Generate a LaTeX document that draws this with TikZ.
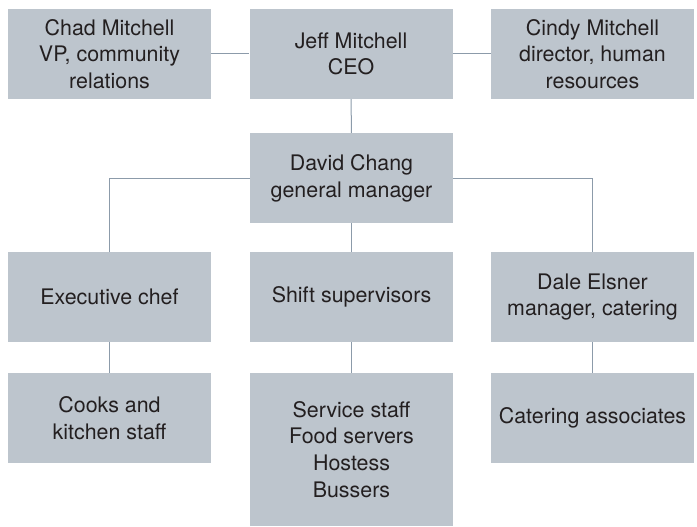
\documentclass[tikz,border=0pt]{standalone}
\usepackage{fontspec}
\setmainfont{TeX Gyre Heros}
\definecolor{boxgray}{RGB}{189,197,205}
\definecolor{linegray}{RGB}{140,155,170}
\definecolor{inkgray}{RGB}{35,31,32}
\begin{document}
\begin{tikzpicture}[x=1pt,y=-1pt,
    n/.style={rectangle,fill=boxgray,text=inkgray,align=center,inner sep=0pt,
      minimum width=203pt,minimum height=90pt,
      font=\fontsize{21.4}{26.7}\selectfont},
    c/.style={draw=linegray,line width=1pt}]
                \useasboundingbox (0,0) rectangle (697,527);

                \node[n] (chad) at (109.5,54) {Chad Mitchell\\VP, community\\relations};
                \node[n] (jeff) at (351,54) {Jeff Mitchell\\CEO};
                \node[n] (cindy) at (592.5,54) {Cindy Mitchell\\director, human\\resources};
                \node[n] (david) at (351.5,178) {David Chang\\general manager};
                \node[n] (chef) at (109.5,297) {Executive chef};
                \node[n] (shift) at (351.5,297) {Shift supervisors};
                \node[n] (dale) at (592.5,297) {Dale Elsner\\manager, catering};
                \node[n] (cooks) at (109.5,418) {Cooks and\\kitchen staff};
                \node[n,minimum height=153pt] (service) at (351.5,449.5) {Service staff\\Food servers\\Hostess\\Bussers};
                \node[n] (assoc) at (592.5,418) {Catering associates};

                \draw[c] (chad) to (jeff);
                \draw[c] (jeff) to (cindy);
                \draw[c] (jeff) to (david);

                \draw[c] (david.west) -| (chef.north);
                \draw[c] (david) to (shift);
                \draw[c] (david.east) -| (dale.north);

                \draw[c] (chef) to (cooks);
                \draw[c] (shift) to (service);
                \draw[c] (dale) to (assoc);
            \end{tikzpicture}
\end{document}
